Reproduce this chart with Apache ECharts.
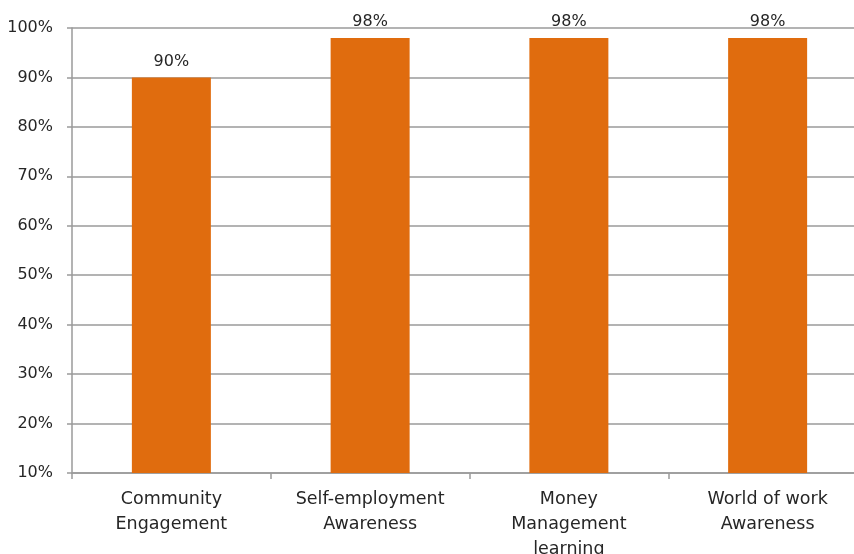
<!DOCTYPE html>
<html>
<head>
<meta charset="utf-8">
<script src="https://cdn.jsdelivr.net/npm/echarts@6/dist/echarts.min.js"></script>
<style>
  html, body { margin: 0; padding: 0; background: #ffffff; }
  #chart { width: 854px; height: 554px; }
</style>
</head>
<body>
<div id="chart"></div>
<script>
// Share of learners reporting each outcome (percent)
const categories = [
  'Community\nEngagement',
  'Self-employment\nAwareness',
  'Money\nManagement\nlearning',
  'World of work\nAwareness'
];
const values = [90, 98, 98, 98];
const yMin = 10;
const yMax = 100;
const yStep = 10;

const FONT = '"DejaVu Sans", sans-serif';
const axisGray = '#9a9a9a';
const textColor = '#262626';

const chart = echarts.init(document.getElementById('chart'), null, { renderer: 'canvas' });
chart.setOption({
  animation: false,
  backgroundColor: '#ffffff',
  grid: {
    left: 72, right: -13, top: 28, bottom: 81,
    containLabel: false,
    outerBoundsMode: 'none'
  },
  xAxis: {
    type: 'category',
    data: categories,
    axisLine: { lineStyle: { color: axisGray, width: 1.5 } },
    axisTick: { show: true, length: 6, lineStyle: { color: axisGray, width: 1.5 } },
    axisLabel: {
      color: textColor,
      fontFamily: FONT,
      fontSize: 17.5,
      lineHeight: 25,
      margin: 14,
      interval: 0
    }
  },
  yAxis: {
    type: 'value',
    min: yMin,
    max: yMax,
    interval: yStep,
    axisLine: { show: true, lineStyle: { color: axisGray, width: 1.5 } },
    axisTick: { show: true, length: 5, lineStyle: { color: axisGray, width: 1.5 } },
    splitLine: { show: true, lineStyle: { color: axisGray, width: 1.5 } },
    axisLabel: {
      color: textColor,
      fontFamily: FONT,
      fontSize: 16,
      margin: 19,
      formatter: v => v + '%'
    }
  },
  series: [{
    type: 'bar',
    data: values,
    barWidth: 79,
    itemStyle: { color: '#e06c0e' },
    label: {
      show: true,
      position: 'top',
      distance: 8,
      color: textColor,
      fontFamily: FONT,
      fontSize: 16,
      formatter: p => p.value + '%'
    }
  }]
});
</script>
</body>
</html>
